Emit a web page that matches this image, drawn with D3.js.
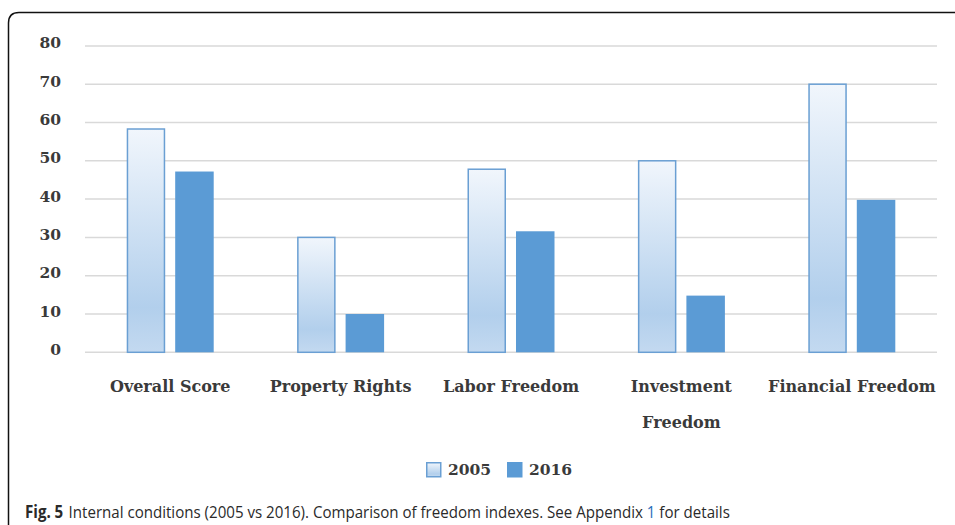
<!DOCTYPE html>
<html><head><meta charset="utf-8">
<script src="https://cdn.jsdelivr.net/npm/d3@7"></script>
<style>body{margin:0;background:#fff;}svg{display:block;}</style>
</head><body>
<svg id="chart" width="955" height="525"></svg>
<script>
const categories = ["Overall Score", "Property Rights", "Labor Freedom", "Investment Freedom", "Financial Freedom"];
const categoryLines = [["Overall Score"], ["Property Rights"], ["Labor Freedom"], ["Investment", "Freedom"], ["Financial Freedom"]];
const seriesNames = ["2005", "2016"];
const values2005 = [58.3, 30, 47.8, 50, 70];
const values2016 = [47.2, 10, 31.6, 14.8, 39.8];
const yTicks = [0, 10, 20, 30, 40, 50, 60, 70, 80];

const svg = d3.select("#chart");
const serif = "'DejaVu Serif', serif";
const textCol = "#3a3a3a";

// frame
svg.append("path").attr("d", "M8.5,525 L8.5,23 Q8.5,12.5 19,12.5 L955,12.5")
  .attr("fill", "none").attr("stroke", "#111").attr("stroke-width", 1.5);

const defs = svg.append("defs");
const grad = defs.append("linearGradient").attr("id", "g2005").attr("x1", 0).attr("y1", 0).attr("x2", 0).attr("y2", 1);
grad.append("stop").attr("offset", "0%").attr("stop-color", "#f1f6fc");
grad.append("stop").attr("offset", "80%").attr("stop-color", "#b2cfec");
grad.append("stop").attr("offset", "100%").attr("stop-color", "#c3d9f0");

const y = d3.scaleLinear().domain([0, 80]).range([352.3, 45.9]);
const x0 = d3.scaleBand().domain(categories).range([85, 937]).padding(0);
const bw = x0.bandwidth();
const x1 = d3.scaleBand().domain(seriesNames).range([bw / 2 - 43.5, bw / 2 + 43.5]).paddingInner(0.206).paddingOuter(0);

// gridlines
svg.append("g").selectAll("line").data(yTicks).join("line")
  .attr("x1", 85).attr("x2", 937)
  .attr("y1", d => y(d)).attr("y2", d => y(d))
  .attr("stroke", "#d9d9d9").attr("stroke-width", 1.5);

// y labels
svg.append("g").selectAll("text").data(yTicks).join("text")
  .attr("x", 61).attr("y", d => y(d) - 1.5)
  .attr("text-anchor", "end").attr("dominant-baseline", "middle")
  .attr("font-family", serif).attr("font-weight", "bold").attr("font-size", 15.5)
  .attr("fill", textCol).text(d => d);

// bars
const data = categories.map((c, i) => ({ c, vals: [values2005[i], values2016[i]] }));
const groups = svg.append("g").selectAll("g").data(data).join("g")
  .attr("transform", d => `translate(${x0(d.c)},0)`);
groups.append("rect")
  .attr("x", x1("2005") + 0.75).attr("width", x1.bandwidth() - 1.5)
  .attr("y", d => y(d.vals[0])).attr("height", d => y(0) - y(d.vals[0]))
  .attr("fill", "url(#g2005)").attr("stroke", "#6a9fd3").attr("stroke-width", 1.5);
groups.append("rect")
  .attr("x", x1("2016")).attr("width", x1.bandwidth())
  .attr("y", d => y(d.vals[1])).attr("height", d => y(0) - y(d.vals[1]))
  .attr("fill", "#5b9bd5");

// category labels
const lab = svg.append("g").selectAll("text").data(categories).join("text")
  .attr("x", d => x0(d) + bw / 2).attr("y", 392)
  .attr("text-anchor", "middle")
  .attr("font-family", serif).attr("font-weight", "bold").attr("font-size", 16)
  .attr("fill", textCol);
lab.each(function(d, i) {
  const t = d3.select(this);
  categoryLines[i].forEach((ln, j) => {
    t.append("tspan").attr("x", x0(d) + bw / 2).attr("dy", j === 0 ? 0 : 36).text(ln);
  });
});

// legend
const leg = svg.append("g");
leg.append("rect").attr("x", 426.75).attr("y", 462.75).attr("width", 14).attr("height", 14)
  .attr("fill", "url(#g2005)").attr("stroke", "#6a9fd3").attr("stroke-width", 1.5);
leg.append("text").attr("x", 448).attr("y", 475)
  .attr("font-family", serif).attr("font-weight", "bold").attr("font-size", 15.5).attr("fill", textCol).text("2005");
leg.append("rect").attr("x", 507).attr("y", 462).attr("width", 15.5).attr("height", 15.5).attr("fill", "#5b9bd5");
leg.append("text").attr("x", 529).attr("y", 475)
  .attr("font-family", serif).attr("font-weight", "bold").attr("font-size", 15.5).attr("fill", textCol).text("2016");

// caption
const capG = svg.append("g").attr("transform", "translate(25,518) scale(0.888,1)");
const cap = capG.append("text").attr("x", 0).attr("y", 0)
  .attr("font-family", "'Open Sans', sans-serif").attr("font-size", 17).attr("fill", "#2a2a2a");
cap.append("tspan").attr("font-weight", "bold").text("Fig. 5");
cap.append("tspan").attr("dx", 6).text("Internal conditions (2005 vs 2016). Comparison of freedom indexes. See Appendix ");
cap.append("tspan").attr("fill", "#2a6ebb").text("1");
cap.append("tspan").text(" for details");
</script>
</body></html>
